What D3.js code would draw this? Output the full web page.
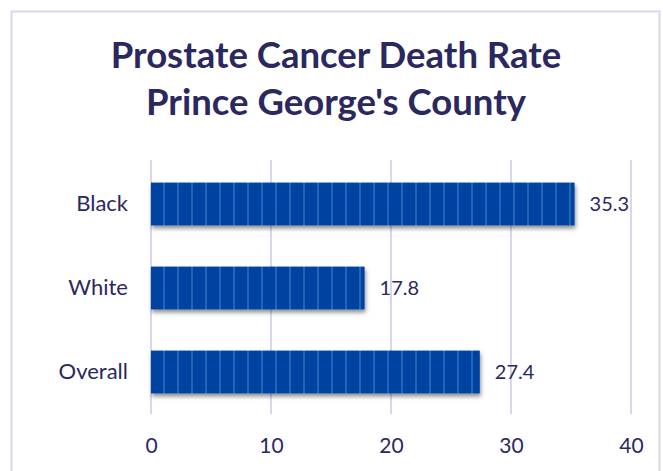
<!DOCTYPE html>
<html>
<head>
<meta charset="utf-8">
<script src="https://cdn.jsdelivr.net/npm/d3@7"></script>
<style>
  html, body { margin: 0; padding: 0; background: #ffffff; }
  svg { display: block; }
</style>
</head>
<body>
<div id="chart"></div>
<script>
// Prostate cancer death rate by group
const categories = ["Black", "White", "Overall"];
const rates = [35.3, 17.8, 27.4];
const tickValues = [0, 10, 20, 30, 40];
const titleLines = ["Prostate Cancer Death Rate", "Prince George's County"];

const W = 663, H = 471;
const margin = { left: 151, right: 32, top: 162, bottom: 57 };
const textColor = "#2b2860";
const gridColor = "#d9d6ee";
const barColor = "#0242a0";
const stripeColor = "#1f67b8";
const font = "Lato, 'Open Sans', sans-serif";

const svg = d3.select("#chart").append("svg")
  .attr("width", W).attr("height", H);

const defs = svg.append("defs");
// vertical stripes across each bar
const pat = defs.append("pattern")
  .attr("id", "stripes")
  .attr("patternUnits", "userSpaceOnUse")
  .attr("x", 151).attr("y", 0)
  .attr("width", 14).attr("height", 10);
pat.append("rect").attr("width", 14).attr("height", 10).attr("fill", barColor);
pat.append("rect").attr("x", 12).attr("width", 2).attr("height", 10).attr("fill", stripeColor);

const shadow = defs.append("filter").attr("id", "shadow")
  .attr("x", "-5%").attr("y", "-20%").attr("width", "115%").attr("height", "150%");
shadow.append("feDropShadow")
  .attr("dx", 1).attr("dy", 3).attr("stdDeviation", 2)
  .attr("flood-color", "#000").attr("flood-opacity", 0.45);

// outer frame
svg.append("rect")
  .attr("x", 11.5).attr("y", 11.5)
  .attr("width", 648).attr("height", 470)
  .attr("fill", "none").attr("stroke", gridColor).attr("stroke-width", 2);

// title
svg.append("g").selectAll("text").data(titleLines).join("text")
  .attr("x", 336).attr("y", (d, i) => 68 + i * 47)
  .attr("text-anchor", "middle")
  .attr("font-family", font)
  .attr("font-weight", "bold")
  .attr("font-size", 36.5)
  .attr("fill", textColor)
  .text(d => d);

const x = d3.scaleLinear().domain([0, 40]).range([margin.left, W - margin.right]);
const y = d3.scaleBand().domain(categories)
  .range([margin.top, H - margin.bottom]).paddingInner(0.49).paddingOuter(0.245);

// gridlines
svg.append("g").selectAll("line").data(tickValues).join("line")
  .attr("x1", d => x(d)).attr("x2", d => x(d))
  .attr("y1", margin.top - 2).attr("y2", H - margin.bottom)
  .attr("stroke", gridColor).attr("stroke-width", 2);

// x axis labels
const xAxis = d3.axisBottom(x).tickValues(tickValues).tickSize(0).tickPadding(24);
const gx = svg.append("g")
  .attr("transform", `translate(0,${H - margin.bottom})`)
  .call(xAxis);
gx.select(".domain").remove();
gx.selectAll("text")
  .attr("font-family", font)
  .attr("font-size", 21).attr("fill", textColor);

// category labels
const yAxis = d3.axisLeft(y).tickSize(0).tickPadding(23);
const gy = svg.append("g")
  .attr("transform", `translate(${margin.left},0)`)
  .call(yAxis);
gy.select(".domain").remove();
gy.selectAll("text")
  .attr("font-family", font)
  .attr("font-size", 22).attr("fill", textColor);

// bars
svg.append("g").selectAll("rect").data(rates).join("rect")
  .attr("x", x(0))
  .attr("y", (d, i) => y(categories[i]))
  .attr("width", d => x(d) - x(0))
  .attr("height", y.bandwidth())
  .attr("fill", "url(#stripes)")
  .attr("filter", "url(#shadow)");

// value labels
svg.append("g").selectAll("text").data(rates).join("text")
  .attr("x", d => x(d) + 15)
  .attr("y", (d, i) => y(categories[i]) + y.bandwidth() / 2)
  .attr("dy", "0.35em")
  .attr("font-family", font)
  .attr("font-size", 20).attr("fill", textColor)
  .text(d => d.toFixed(1));
</script>
</body>
</html>
